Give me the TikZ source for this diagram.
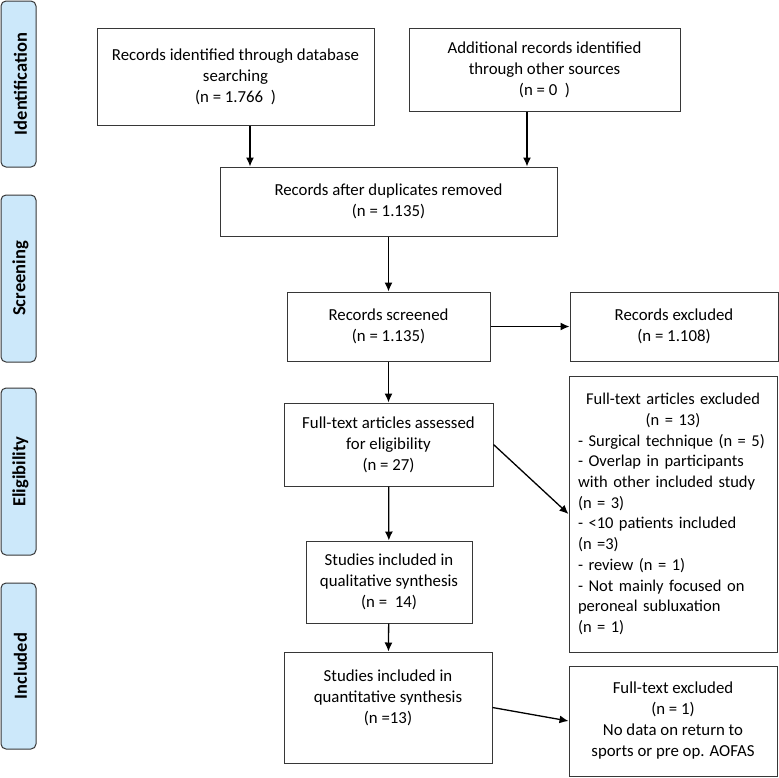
\documentclass[tikz,border=0pt]{standalone}
\usepackage{fontspec}
\setmainfont{Carlito}
\usepackage{tikz}
\usetikzlibrary{positioning,arrows.meta}

\definecolor{phasefill}{RGB}{204,232,250}
\definecolor{boxline}{RGB}{55,55,55}

\begin{document}
\begin{tikzpicture}
    [ x = 1pt, y = -1pt
    , font = \fontsize{16.8}{21}\selectfont
    , >= {Latex[length=9pt,width=8pt]}
    , phase/.style =
      { draw = boxline, fill = phasefill, line width = 1pt, rounded corners = 5pt
      , minimum width = 35pt, inner sep = 0pt }
    , phaselabel/.style =
      { rotate = 90, font = \fontsize{18.5}{20}\selectfont\bfseries }
    , record/.style =
      { draw = boxline, line width = 1pt, align = center, inner sep = 4pt }
    , listing/.style =
      { record, align = left, text width = 190pt, inner xsep = 9pt, inner ysep = 12pt
      , font = \fontsize{16.5}{20.7}\selectfont }
    , flow/.style =
      { ->, line width = 1.3pt }
    ]
    \useasboundingbox (0,0) rectangle (779,777);

    % phases
    \node [phase, minimum height = 166pt] (ident) at (18.5,84) {};
    \node [phaselabel] at ([xshift=2pt]ident.center) {Identification};
    \node [phase, minimum height = 167pt] (screen) at (18.5,278.5) {};
    \node [phaselabel] at ([xshift=2pt]screen.center) {Screening};
    \node [phase, minimum height = 167pt] (elig) at (18.5,471.5) {};
    \node [phaselabel] at ([xshift=2pt]elig.center) {Eligibility};
    \node [phase, minimum height = 166pt] (incl) at (18.5,666) {};
    \node [phaselabel] at ([xshift=2pt]incl.center) {Included};

    % records
    \node [record, minimum width = 277pt, minimum height = 97pt] (database) at (235.5,76.5)
      {Records identified through database\\ searching\\ (n = 1.766~~)};
    \node [record, minimum width = 271pt, minimum height = 83pt] (other) at (544.5,69.5)
      {Additional records identified\\ through other sources\\ (n = 0~~)};
    \node [record, minimum width = 337pt, minimum height = 69pt] (dupl) at (388.5,201.5)
      {Records after duplicates removed\\ (n = 1.135)};
    \node [record, minimum width = 203pt, minimum height = 69pt] (screened) at (388.5,326.5)
      {Records screened\\ (n = 1.135)};
    \node [record, minimum width = 208pt, minimum height = 69pt] (excl) [right=79pt of screened]
      {Records excluded\\ (n = 1.108)};
    \node [record, minimum width = 209pt, minimum height = 83pt] (fulltext) at (388.5,444.5)
      {Full-text articles assessed\\ for eligibility\\ (n = 27)};
    \node [listing, minimum height = 276pt] (ftexcl) at (673,514)
      {{\centering Full-text articles excluded\\ (n = 13)\par}
       - Surgical technique (n = 5)\\
       - Overlap in participants\\ with other included study\\ (n = 3)\\
       - <10 patients included\\ (n =3)\\
       - review (n = 1)\\
       - Not mainly focused on\\ peroneal subluxation\\ (n = 1)};
    \node [record, minimum width = 166pt, minimum height = 82pt] (quali) at (389,582)
      {Studies included in\\ qualitative synthesis\\ (n =~~14)};
    \node [record, minimum width = 208pt, minimum height = 111pt] (quanti) at (388,707.5)
      {Studies included in\\ quantitative synthesis\\ (n =13)\\ \mbox{}};
    \node [record, minimum width = 208pt, minimum height = 110pt] (aofas) at (673,721)
      {Full-text excluded\\ (n = 1)\\ No data on return to\\ sports or pre op. AOFAS};

    \draw [flow] ([xshift=14.5pt]database.south) -- ([xshift=14.5pt]database.south |- dupl.north);
    \draw [flow] ([xshift=-17.5pt]other.south) -- ([xshift=-17.5pt]other.south |- dupl.north);
    \draw [flow] (dupl) -- (screened);
    \draw [flow] (screened) -- (excl);
    \draw [flow] (screened) -- (fulltext);
    \draw [flow] (fulltext.east) -- (ftexcl.west);
    \draw [flow] (fulltext) -- (quali);
    \draw [flow] (quali) -- (quanti);
    \draw [flow] (quanti.east) -- (aofas.west);
\end{tikzpicture}
\end{document}
